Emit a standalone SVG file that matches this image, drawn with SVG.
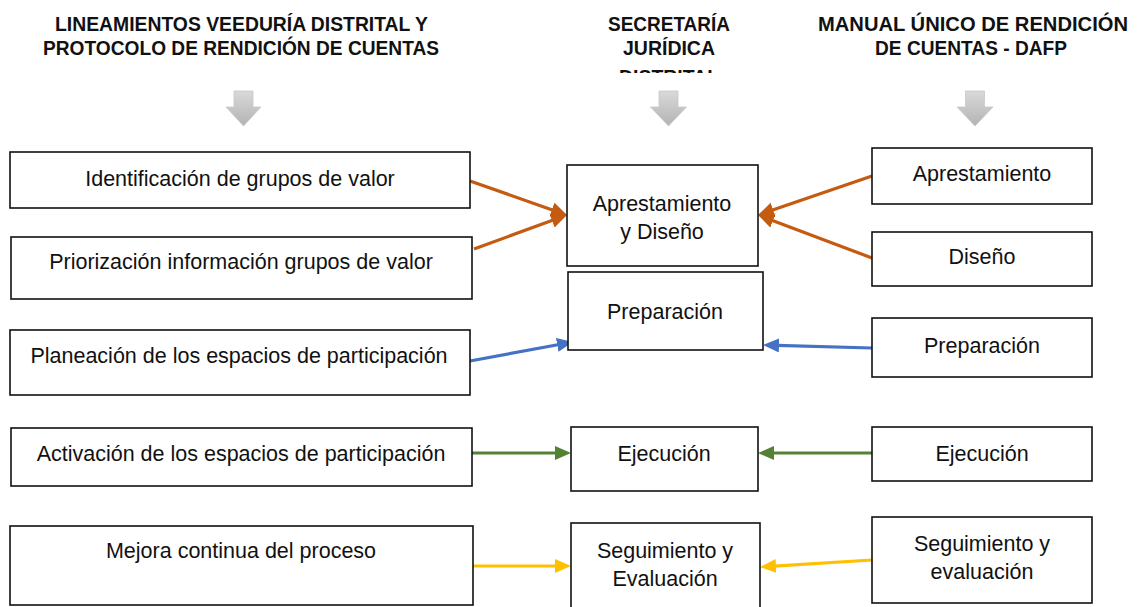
<svg xmlns="http://www.w3.org/2000/svg" width="1139" height="607" viewBox="0 0 1139 607">
<style>
.hdr{font-family:"Liberation Sans",Arial,sans-serif;font-weight:bold;font-size:20.5px;fill:#111;text-anchor:middle}
.box{fill:#fff;stroke:#111;stroke-width:1.6}
.lbl{font-family:"Liberation Sans",Arial,sans-serif;font-size:21.5px;fill:#111;text-anchor:middle}
.con{stroke-width:3.2;fill:none}
.or{stroke:#C55A11}.bl{stroke:#4472C4}.gr{stroke:#548235}.ye{stroke:#FFC000}
.garrow{fill:url(#gg);stroke:#c8c8c8;stroke-width:0.8}
</style>
<defs>
<linearGradient id="gg" x1="0" y1="0" x2="0" y2="1">
<stop offset="0" stop-color="#d9d9d9"/><stop offset="1" stop-color="#b3b3b3"/>
</linearGradient>
<clipPath id="clipHdr"><rect x="560" y="0" width="220" height="73"/></clipPath>
<marker id="mOr" markerUnits="userSpaceOnUse" markerWidth="18" markerHeight="16" refX="2" refY="7.5" orient="auto"><path d="M0,0 L16,7.5 L0,15 z" fill="#C55A11"/></marker>
<marker id="mBl" markerUnits="userSpaceOnUse" markerWidth="18" markerHeight="16" refX="2" refY="7" orient="auto"><path d="M0,0 L16,7 L0,14 z" fill="#4472C4"/></marker>
<marker id="mGr" markerUnits="userSpaceOnUse" markerWidth="18" markerHeight="16" refX="2" refY="7" orient="auto"><path d="M0,0 L16,7 L0,14 z" fill="#548235"/></marker>
<marker id="mYe" markerUnits="userSpaceOnUse" markerWidth="18" markerHeight="16" refX="2" refY="7" orient="auto"><path d="M0,0 L16,7 L0,14 z" fill="#FFC000"/></marker>
</defs>
<rect width="1139" height="607" fill="#fff"/>

<g id="headers">
<text class="hdr" x="241.5" y="31" textLength="373" lengthAdjust="spacingAndGlyphs">LINEAMIENTOS VEEDURÍA DISTRITAL Y</text>
<text class="hdr" x="241" y="55" textLength="396" lengthAdjust="spacingAndGlyphs">PROTOCOLO DE RENDICIÓN DE CUENTAS</text>
<text class="hdr" x="669" y="31" textLength="122" lengthAdjust="spacingAndGlyphs">SECRETARÍA</text>
<text class="hdr" x="669" y="55" textLength="92" lengthAdjust="spacingAndGlyphs">JURÍDICA</text>
<text class="hdr" x="669" y="84" textLength="100" lengthAdjust="spacingAndGlyphs" clip-path="url(#clipHdr)">DISTRITAL</text>
<text class="hdr" x="973" y="31" textLength="310" lengthAdjust="spacingAndGlyphs">MANUAL ÚNICO DE RENDICIÓN</text>
<text class="hdr" x="971" y="55" textLength="192" lengthAdjust="spacingAndGlyphs">DE CUENTAS - DAFP</text>
</g>

<g id="down-arrows">
<path class="garrow" d="M234,91 H253 V107 H261 L243.5,126 L226,107 H234 Z"/>
<path class="garrow" d="M659,91 H678 V107 H686.5 L668.5,126 L650.5,107 H659 Z"/>
<path class="garrow" d="M965.5,91 H984.5 V107 H993 L975,126 L957,107 H965.5 Z"/>
</g>

<g id="connectors">
<line class="con or" x1="470" y1="181" x2="553.8" y2="210.4" marker-end="url(#mOr)"/>
<line class="con or" x1="474" y1="249" x2="553.9" y2="219.8" marker-end="url(#mOr)"/>
<line class="con or" x1="872" y1="176" x2="771.2" y2="210.5" marker-end="url(#mOr)"/>
<line class="con or" x1="872" y1="258" x2="771.1" y2="219.9" marker-end="url(#mOr)"/>
<line class="con bl" x1="470" y1="361" x2="559.2" y2="344.5" marker-end="url(#mBl)"/>
<line class="con bl" x1="872" y1="348" x2="777" y2="345.4" marker-end="url(#mBl)"/>
<line class="con gr" x1="472" y1="453" x2="557" y2="453" marker-end="url(#mGr)"/>
<line class="con gr" x1="872" y1="453" x2="772" y2="453" marker-end="url(#mGr)"/>
<line class="con ye" x1="473" y1="566" x2="557" y2="566" marker-end="url(#mYe)"/>
<line class="con ye" x1="872" y1="560" x2="774" y2="566.1" marker-end="url(#mYe)"/>
</g>

<g id="left-identificacion"><rect class="box" x="10" y="152" width="460" height="56"/><text class="lbl" x="240" y="186">Identificación de grupos de valor</text></g>
<g id="left-priorizacion"><rect class="box" x="11" y="237" width="461" height="62"/><text class="lbl" x="241" y="269">Priorización información grupos de valor</text></g>
<g id="left-planeacion"><rect class="box" x="10" y="330" width="460" height="65"/><text class="lbl" x="239" y="363">Planeación de los espacios de participación</text></g>
<g id="left-activacion"><rect class="box" x="11" y="428" width="461" height="58"/><text class="lbl" x="241" y="461">Activación de los espacios de participación</text></g>
<g id="left-mejora"><rect class="box" x="10" y="526" width="463" height="79"/><text class="lbl" x="241" y="558">Mejora continua del proceso</text></g>

<g id="mid-aprestamiento-diseno"><rect class="box" x="567" y="165" width="191" height="101"/><text class="lbl" x="662" y="211">Aprestamiento</text><text class="lbl" x="662" y="239">y Diseño</text></g>
<g id="mid-preparacion"><rect class="box" x="568" y="272" width="195" height="78"/><text class="lbl" x="665" y="319">Preparación</text></g>
<g id="mid-ejecucion"><rect class="box" x="571" y="427" width="187" height="64"/><text class="lbl" x="664" y="461">Ejecución</text></g>
<g id="mid-seguimiento"><rect class="box" x="571" y="523" width="189" height="90"/><text class="lbl" x="665" y="558">Seguimiento y</text><text class="lbl" x="665" y="586">Evaluación</text></g>

<g id="right-aprestamiento"><rect class="box" x="872" y="148" width="220" height="56"/><text class="lbl" x="982" y="181">Aprestamiento</text></g>
<g id="right-diseno"><rect class="box" x="872" y="232" width="220" height="54"/><text class="lbl" x="982" y="264">Diseño</text></g>
<g id="right-preparacion"><rect class="box" x="872" y="318" width="220" height="59"/><text class="lbl" x="982" y="353">Preparación</text></g>
<g id="right-ejecucion"><rect class="box" x="872" y="427" width="220" height="54"/><text class="lbl" x="982" y="461">Ejecución</text></g>
<g id="right-seguimiento"><rect class="box" x="872" y="517" width="220" height="86"/><text class="lbl" x="982" y="551">Seguimiento y</text><text class="lbl" x="982" y="579">evaluación</text></g>
</svg>
